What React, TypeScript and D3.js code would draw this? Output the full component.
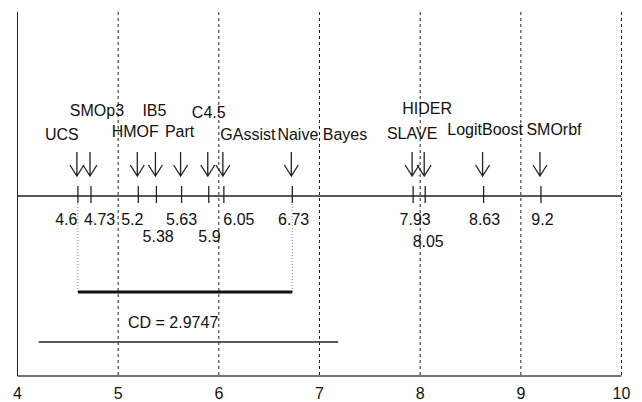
import React from 'react';
import * as d3 from 'd3';

// methods and their average ranks
const methods = ['UCS', 'SMOp3', 'HMOF', 'IB5', 'Part', 'C4.5', 'GAssist', 'Naive Bayes', 'SLAVE', 'HIDER', 'LogitBoost', 'SMOrbf'];
const ranks = [4.6, 4.73, 5.2, 5.38, 5.63, 5.9, 6.05, 6.73, 7.93, 8.05, 8.63, 9.2];
const rankLabels = ['4.6', '4.73', '5.2', '5.38', '5.63', '5.9', '6.05', '6.73', '7.93', '8.05', '8.63', '9.2'];
const axisTicks = [4, 5, 6, 7, 8, 9, 10];
const gridTicks = [5, 6, 7, 8, 9, 10];

// critical difference
const cdValue = 2.9747;
const cdStart = 4.21;
const cliqueFrom = 4.6;
const cliqueTo = 6.73;

// label placement (dx from arrow, text centre y) to avoid overlaps
const nameDx = [-16, 6, -3, -2, -2, 0, 24, 30, -1, 2, 1.5, 13];
const nameY = [134, 110, 131.5, 110, 131.5, 112, 134.5, 134, 133, 108.5, 129.5, 129.5];
const valDx = [-11.6, 8.7, -6, 1.7, 0, 0.7, 15, 1.3, 2, 3, 1, 1.5];
const valY = [219, 219, 219, 236, 219, 236, 219, 219, 219, 241, 219, 219];

const W = 642;
const H = 402;
const top = 12;
const bottom = 376;
const lineY = 196;
const font = '"Liberation Sans", Arial, Helvetica, sans-serif';
const capOff = 5.8;

export default function App() {
  const x = d3.scaleLinear().domain([4, 10]).range([17.5, 621.5]);

  return (
    <svg width={W} height={H} style={{ position: 'absolute', left: 0, top: 0 }} fontFamily={font} fontSize={16}>
      <rect width={W} height={H} fill="#fff" />
      {/* frame */}
      <line x1={x(4)} x2={x(4)} y1={top} y2={bottom} stroke="#222" strokeWidth={1} />
      {gridTicks.map(t => (
        <line key={t} x1={x(t)} x2={x(t)} y1={top} y2={bottom} stroke="#222" strokeWidth={1} strokeDasharray="3,3" />
      ))}
      <line x1={x(4)} x2={x(10)} y1={bottom} y2={bottom} stroke="#444" strokeWidth={1.3} />
      {axisTicks.map(t => (
        <text key={t} x={x(t)} y={393 + capOff} textAnchor="middle" fill="#111">{t}</text>
      ))}

      {/* rank line */}
      <line x1={x(4)} x2={x(10)} y1={lineY} y2={lineY} stroke="#222" strokeWidth={1.5} />
      {ranks.map((r, i) => {
        const px = x(r);
        const ax = px - 1;
        return (
          <g key={methods[i]}>
            <line x1={px} x2={px} y1={186} y2={203} stroke="#222" strokeWidth={1.3} />
            <path d={`M${ax},152 L${ax},176 M${ax - 7},165 L${ax},176 L${ax + 7},165`} fill="none" stroke="#222" strokeWidth={1.3} />
            <text x={px + nameDx[i]} y={nameY[i] + capOff} textAnchor="middle" fill="#111">{methods[i]}</text>
            <text x={px + valDx[i]} y={valY[i] + capOff} textAnchor="middle" fill="#111">{rankLabels[i]}</text>
          </g>
        );
      })}

      {/* clique */}
      {[cliqueFrom, cliqueTo].map(v => (
        <line key={v} x1={x(v)} x2={x(v)} y1={204} y2={292} stroke="#888" strokeWidth={1} strokeDasharray="1,2" />
      ))}
      <line x1={x(cliqueFrom)} x2={x(cliqueTo)} y1={292} y2={292} stroke="#111" strokeWidth={3} />

      {/* CD bar */}
      <text x={128} y={322 + capOff} fill="#111">CD = {cdValue}</text>
      <line x1={x(cdStart)} x2={x(cdStart + cdValue)} y1={342} y2={342} stroke="#222" strokeWidth={1.5} />
    </svg>
  );
}
